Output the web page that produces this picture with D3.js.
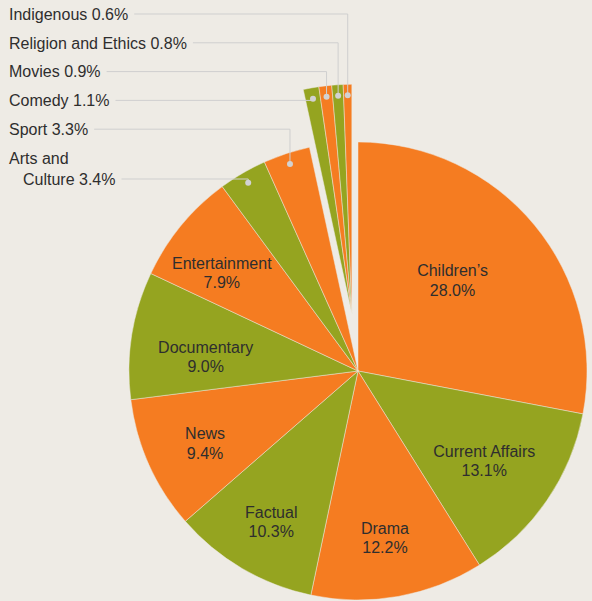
<!DOCTYPE html>
<html>
<head>
<meta charset="utf-8">
<script src="https://cdn.jsdelivr.net/npm/d3@7"></script>
<style>
  html, body { margin: 0; padding: 0; background: #eeebe5; }
  svg { display: block; }
  text { font-family: "Liberation Sans", Arial, Helvetica, sans-serif; font-size: 16px; fill: #2e2e2e; }
</style>
</head>
<body>
<svg id="chart" width="592" height="601"></svg>
<script>
// Share of programming hours by genre (%), clockwise from 12 o'clock
const categories = ["Children’s", "Current Affairs", "Drama", "Factual", "News", "Documentary",
  "Entertainment", "Arts and Culture", "Sport", "Comedy", "Movies", "Religion and Ethics", "Indigenous"];
const shares = [28.0, 13.1, 12.2, 10.3, 9.4, 9.0, 7.9, 3.4, 3.3, 1.1, 0.9, 0.8, 0.6];

// Small genres pulled out of the pie as one group
const pulledOut = ["Comedy", "Movies", "Religion and Ethics", "Indigenous"];
// Genres labelled outside the pie, top to bottom
const outsideOrder = ["Indigenous", "Religion and Ethics", "Movies", "Comedy", "Sport", "Arts and Culture"];

const colors = ["#f57c21", "#95a420"];

const width = 592, height = 601;
const cx = 358, cy = 371, radius = 229, pullDistance = 58;

// inside label placement: radius from centre and angular nudge (degrees)
const insideLabel = {
  "Children’s": { r: 131, nudge: -4.2 },
  "Current Affairs": { r: 155, nudge: 1.1 },
  "Drama": { r: 169, nudge: 0.9 },
  "Factual": { r: 174, nudge: -0.5 },
  "News": { r: 169, nudge: -1.1 },
  "Documentary": { r: 153, nudge: -3.7 },
  "Entertainment": { r: 168, nudge: -3.6 }
};
const outsideLines = { "Arts and Culture": ["Arts and", "Culture"] };

const data = categories.map((c, i) => ({ name: c, value: shares[i], index: i }));
const fmt = v => d3.format(".1f")(v) + "%";

const pie = d3.pie().sort(null).value(d => d.value);
const arcs = pie(data);

const arc = d3.arc().innerRadius(0).outerRadius(radius);

const svg = d3.select("#chart");
const root = svg.append("g").attr("transform", `translate(${cx},${cy})`);

// offset of the pulled-out group, along its middle angle
const groupArcs = arcs.filter(a => pulledOut.includes(a.data.name));
const gStart = d3.min(groupArcs, a => a.startAngle);
const gEnd = d3.max(groupArcs, a => a.endAngle);
const gMid = (gStart + gEnd) / 2;
const gdx = Math.sin(gMid) * pullDistance, gdy = -Math.cos(gMid) * pullDistance;
const offsetOf = a => pulledOut.includes(a.data.name) ? [gdx, gdy] : [0, 0];

root.selectAll("path.slice")
  .data(arcs)
  .join("path")
  .attr("class", "slice")
  .attr("transform", a => { const o = offsetOf(a); return `translate(${o[0]},${o[1]})`; })
  .attr("d", arc)
  .attr("fill", a => colors[a.index % 2])
  .attr("stroke", "#eeebe5")
  .attr("stroke-width", 0.6)
  .attr("stroke-opacity", 0.8);

// labels inside the larger slices
const inside = arcs.filter(a => insideLabel[a.data.name]);
const ig = root.selectAll("g.inlabel")
  .data(inside)
  .join("g")
  .attr("class", "inlabel")
  .attr("transform", a => {
    const p = insideLabel[a.data.name];
    const ang = (a.startAngle + a.endAngle) / 2 + p.nudge * Math.PI / 180;
    return `translate(${Math.sin(ang) * p.r},${-Math.cos(ang) * p.r})`;
  });
ig.append("text").attr("text-anchor", "middle").attr("y", -4).text(a => a.data.name);
ig.append("text").attr("text-anchor", "middle").attr("y", 15.5).text(a => fmt(a.data.value));

// labels outside, with leader lines
const rowTop = 14, rowStep = 28.8, lineStep = 21, textX = 9, indent = 14;
const dotR = radius - 11;
const leaders = svg.append("g");
const labels = svg.append("g");

outsideOrder.forEach((name, i) => {
  const a = arcs.find(d => d.data.name === name);
  const o = offsetOf(a);
  const mid = (a.startAngle + a.endAngle) / 2;
  const dot = [cx + o[0] + Math.sin(mid) * dotR, cy + o[1] - Math.cos(mid) * dotR];

  const lines = outsideLines[name] ? outsideLines[name].slice() : [name];
  lines[lines.length - 1] += " " + fmt(a.data.value);

  const yTop = rowTop + i * rowStep;
  let lastText, lastY;
  lines.forEach((ln, j) => {
    const y = yTop + j * lineStep;
    lastText = labels.append("text")
      .attr("x", textX + (j > 0 ? indent : 0))
      .attr("y", y + 5.7)
      .text(ln);
    lastY = y;
  });
  const box = lastText.node().getBBox();
  const x0 = box.x + box.width + 6;
  leaders.append("path")
    .attr("d", `M${x0},${lastY}H${dot[0]}V${dot[1]}`)
    .attr("fill", "none")
    .attr("stroke", "#cfcfcf")
    .attr("stroke-width", 1);
  leaders.append("circle")
    .attr("cx", dot[0]).attr("cy", dot[1]).attr("r", 3)
    .attr("fill", "#d2d2d2");
});
</script>
</body>
</html>
